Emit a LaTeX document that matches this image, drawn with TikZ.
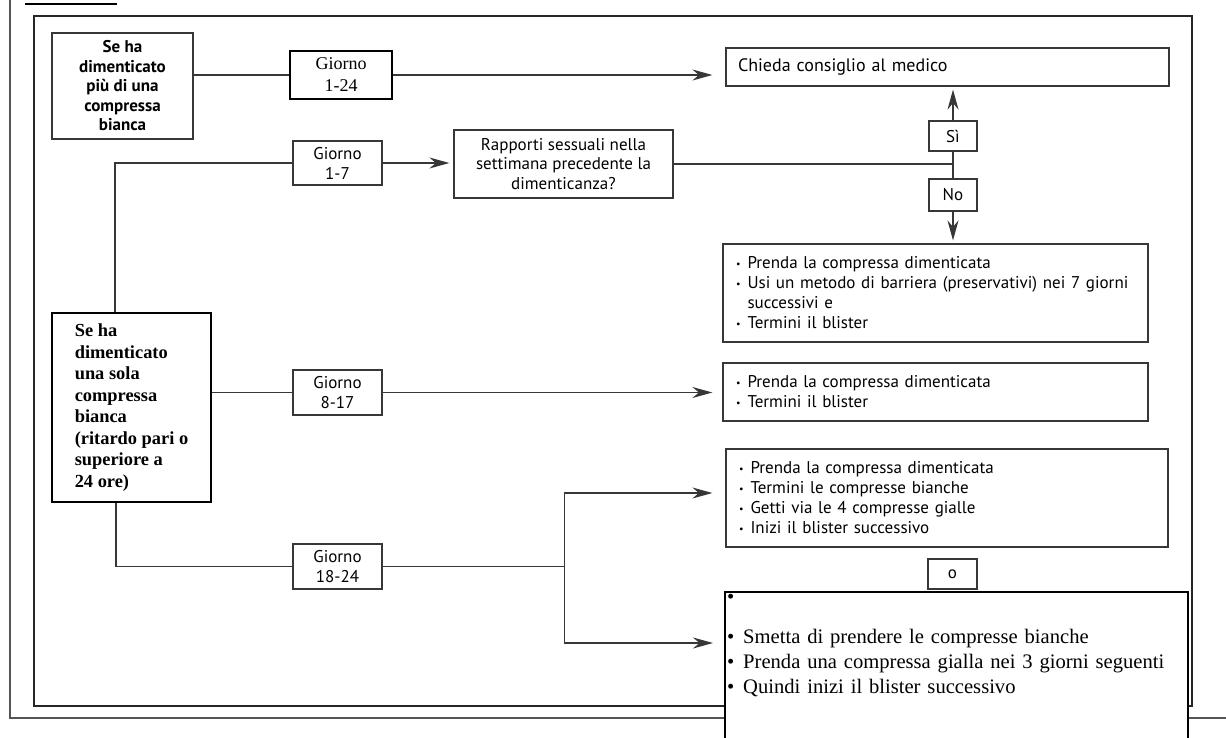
\documentclass[tikz,border=0pt]{standalone}
\usepackage{fontspec}
\setmainfont{Liberation Serif}
\setsansfont{PT Sans}
\usepackage{tikz}
\definecolor{frameGrey}{RGB}{85,85,85}
\definecolor{boxGrey}{RGB}{55,55,55}
\usetikzlibrary{arrows.meta}
\newcommand{\bul}{\raisebox{0.9pt}{\fontsize{5}{5}\selectfont\textbullet}\hspace{3.5pt}}

\begin{document}
\begin{tikzpicture}[
    x=0.5pt, y=-0.5pt,
    sbox/.style={rectangle, draw=boxGrey, line width=0.6pt, inner sep=0pt, align=center, font=\sffamily\fontsize{8.5}{9.75}\selectfont},
    daybox/.style={sbox, minimum width=44.5pt, minimum height=22.5pt, font=\sffamily\fontsize{8.5}{10}\selectfont},
    actbox/.style={sbox, align=left, inner xsep=6.5pt, font=\sffamily\fontsize{8.5}{10}\selectfont},
    link/.style={draw=boxGrey, line width=0.7pt},
    arrow/.style={link, -{Stealth[length=10pt, width=5.5pt]}}
]
    \useasboundingbox (0,0) rectangle (1226,738);

    % frames
    \draw[frameGrey, line width=0.7pt] (10,0) -- (10,718) -- (1226,718);
    \draw[line width=1pt] (25,4) -- (117,4);
    \draw[black!85, line width=1.3pt] (34,16) rectangle (1192,706);

    % more than one tablet
    \node[sbox, minimum width=70.5pt, minimum height=53pt, font=\sffamily\bfseries\fontsize{8.5}{9.75}\selectfont] (many) at (122.5,86) {Se ha\\dimenticato\\più di una\\compressa\\bianca};
    \node[rectangle, draw, line width=1.1pt, inner sep=0pt, align=center, minimum width=51pt, minimum height=24pt, font=\fontsize{9}{11}\selectfont] (g124) at (341,75) {Giorno\\1-24};
    \node[sbox, align=left, text width=209.5pt, inner xsep=6pt, minimum height=19pt, font=\sffamily\fontsize{9}{10}\selectfont] (advice) at (947.5,67) {Chieda consiglio al medico};

    % one tablet
    \node[rectangle, draw, line width=1pt, inner sep=0pt, align=left, minimum width=79.5pt, minimum height=94.5pt, font=\bfseries\fontsize{9.2}{10.75}\selectfont] (single) at (131.5,407.5) {Se ha\\dimenticato\\una sola\\compressa\\bianca\\(ritardo pari o\\superiore a\\24 ore)};

    \node[daybox, minimum height=22pt] (g17) at (337.5,163) {Giorno\\1-7};
    \node[sbox, minimum width=109.5pt, minimum height=34pt] (sex) at (563.5,164) {Rapporti sessuali nella\\settimana precedente la\\dimenticanza?};
    \node[sbox, minimum width=24pt, minimum height=15pt] (yes) at (953,136) {Sì};
    \node[sbox, minimum width=24pt, minimum height=16pt] (no) at (953,195) {No};
    \coordinate (fork) at (no |- sex);

    \node[actbox, text width=199.5pt, minimum height=49pt] (barrier) at (935.5,293) {\bul Prenda la compressa dimenticata\\\bul Usi un metodo di barriera (preservativi) nei 7 giorni\\\hphantom{\bul}successivi e\\\bul Termini il blister};

    \node[daybox] (g817) at (337.5,392.5) {Giorno\\8-17};
    \node[actbox, text width=199.5pt, minimum height=29pt] (finish) at (935.5,392) {\bul Prenda la compressa dimenticata\\\bul Termini il blister};

    \node[daybox] (g1824) at (337.5,566.5) {Giorno\\18-24};
    \coordinate (split) at ([xshift=91pt]g1824.east);
    \node[actbox, text width=208pt, minimum height=49pt] (switch) at (947,498) {\bul Prenda la compressa dimenticata\\\bul Termini le compresse bianche\\\bul Getti via le 4 compresse gialle\\\bul Inizi il blister successivo};
    \node[sbox, minimum width=24.5pt, minimum height=15pt] (orbox) at (952.5,574) {o};
    \node[rectangle, draw, line width=1pt, fill=white, anchor=north west, align=left, text width=229.5pt, inner xsep=1pt, inner ysep=0pt, text height=5.5pt, text depth=80pt, font=\fontsize{10.3}{12.5}\selectfont] (stop) at (724,591) {\textbullet\\[7.5pt]\textbullet\hspace{4.5pt}Smetta di prendere le compresse bianche\\\textbullet\hspace{4.5pt}Prenda una compressa gialla nei 3 giorni seguenti\\\textbullet\hspace{4.5pt}Quindi inizi il blister successivo};

    % connectors
    \draw[link] (many.east |- g124) -- (g124.west);
    \draw[arrow, shorten >=6.5pt] (g124.east) -- (g124.east -| advice.west);
    \draw[link] ([xshift=-8.25pt]single.north) |- (g17.west);
    \draw[arrow, shorten >=2pt] (g17.east) -- (g17.east -| sex.west);
    \draw[link] (sex.east) -- (fork);
    \draw[link] (fork) -- (yes.south);
    \draw[arrow, shorten >=1.5pt] (yes.north) -- (yes.north |- advice.south);
    \draw[link] (fork) -- (no.north);
    \draw[arrow, shorten >=1.5pt] (no.south) -- (no.south |- barrier.north);
    \draw[link] (single.east |- g817) -- (g817.west);
    \draw[arrow, shorten >=5pt] (g817.east) -- (g817.east -| finish.west);
    \draw[link] ([xshift=-7.75pt]single.south) |- (g1824.west);
    \draw[link] (g1824.east) -- (split);
    \draw[arrow, shorten >=6.5pt] (split) |- ([yshift=2.5pt]switch.west);
    \draw[arrow, shorten >=5.5pt] (split) |- ([yshift=-26pt]stop.north west);
\end{tikzpicture}
\end{document}
